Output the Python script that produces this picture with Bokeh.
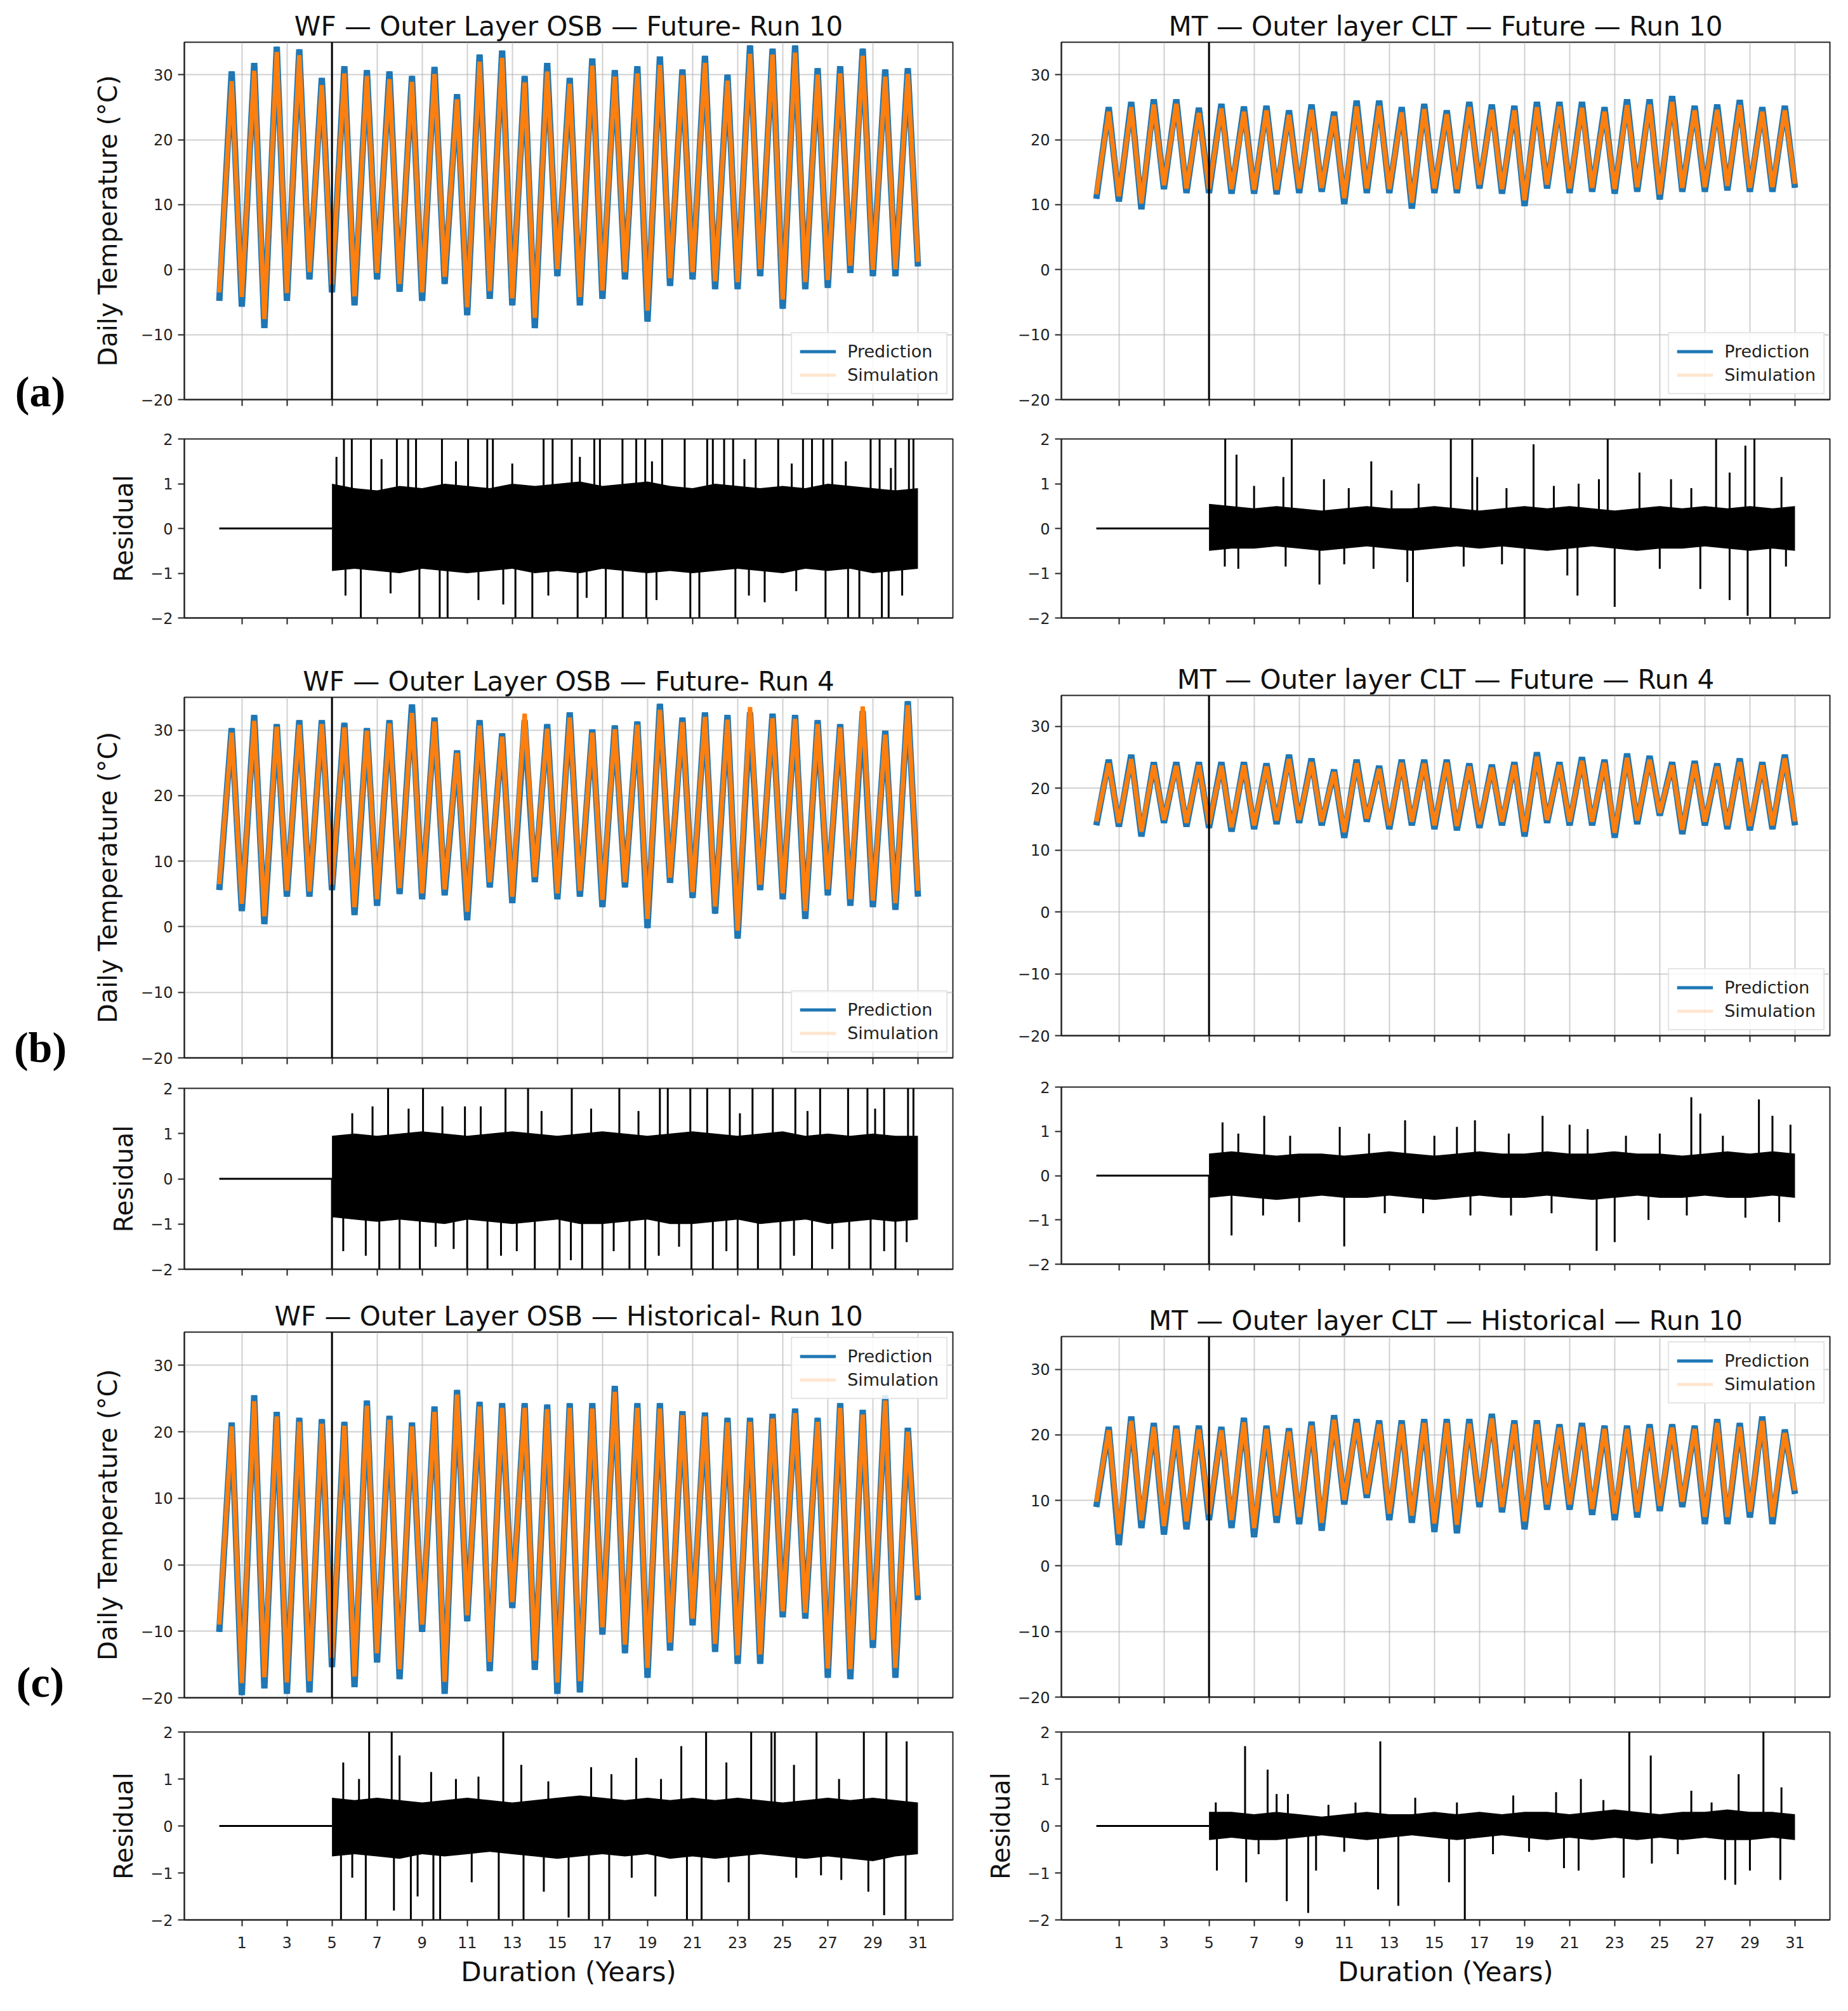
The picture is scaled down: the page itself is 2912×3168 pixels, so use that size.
from bokeh.plotting import figure
from bokeh.models import Range1d, FixedTicker, Span, Label, Legend, LegendItem
from bokeh.layouts import column, row
from bokeh.embed import file_html
from bokeh.resources import INLINE

# ---------------- data ----------------
X_TICKS = [1, 3, 5, 7, 9, 11, 13, 15, 17, 19, 21, 23, 25, 27, 29, 31]
T_TICKS = [-20, -10, 0, 10, 20, 30]
R_TICKS = [-2, -1, 0, 1, 2]
BREAK_YEAR = 5.0
PEAK_PHASE = 0.55          # summer peak position within each year
RES_YEARS = [5, 6, 7, 8, 9, 10, 11, 12, 13, 14, 15, 16, 17, 18, 19, 20,
             21, 22, 23, 24, 25, 26, 27, 28, 29, 30, 31]
PANEL_LABELS = ["(a)", "(b)", "(c)"]

TITLES = ["WF \u2014 Outer Layer OSB \u2014 Future- Run 10",
          "MT \u2014 Outer layer CLT \u2014 Future \u2014 Run 10",
          "WF \u2014 Outer Layer OSB \u2014 Future- Run 4",
          "MT \u2014 Outer layer CLT \u2014 Future \u2014 Run 4",
          "WF \u2014 Outer Layer OSB \u2014 Historical- Run 10",
          "MT \u2014 Outer layer CLT \u2014 Historical \u2014 Run 10"]

# (a) left : WF future run 10  (winter lows at year starts, summer highs)
AL_PRED_LO = [-4.8, -5.7, -9.0, -4.8, -1.5, -3.5, -5.5, -1.5, -3.4, -4.8, -2.2, -7.0, -4.5, -5.5, -9.0, -1.0,
              -5.5, -4.5, -1.5, -8.0, -2.5, -1.5, -3.0, -3.0, -1.0, -6.0, -3.0, -2.8, -0.5, -1.0, -1.0, 0.5]
AL_PRED_HI = [30.5, 31.8, 34.3, 33.9, 29.5, 31.3, 30.7, 30.5, 29.8, 31.2, 27.0, 33.1, 33.7, 29.8, 31.8, 29.5,
              32.5, 30.7, 31.3, 32.8, 30.8, 32.9, 30.0, 34.5, 34.0, 34.5, 31.0, 31.3, 34.0, 30.8, 31.0]
AL_SIM_LO = [-3.5, -4.2, -7.6, -3.6, -0.4, -2.3, -4.1, -0.5, -2.2, -3.5, -1.1, -5.8, -3.3, -4.4, -7.4, 0.1,
             -4.2, -3.2, -0.4, -6.3, -1.3, -0.4, -1.8, -1.9, 0.1, -4.6, -1.9, -1.6, 0.6, 0.0, 0.1, 1.2]
AL_SIM_HI = [29.0, 30.6, 33.5, 33.0, 28.4, 30.2, 29.8, 29.3, 28.9, 30.1, 26.2, 32.0, 32.6, 28.8, 30.5, 28.6,
             31.4, 29.7, 30.2, 31.5, 29.9, 31.8, 29.1, 33.2, 33.1, 33.4, 30.0, 30.2, 32.9, 29.7, 30.1]

# (a) right : MT future run 10
AR_PRED_LO = [10.9, 10.5, 9.3, 12.4, 11.8, 11.8, 11.7, 11.7, 11.6, 11.8, 12.0, 10.1, 11.8, 11.8, 9.4, 11.8,
              11.8, 12.5, 11.7, 9.8, 12.5, 11.8, 12.0, 11.7, 12.0, 10.8, 12.0, 12.0, 12.2, 12.0, 12.0, 12.6]
AR_PRED_HI = [25.0, 25.8, 26.2, 26.2, 24.9, 25.5, 25.1, 25.2, 24.5, 25.4, 24.3, 26.0, 26.0, 25.0, 25.5, 24.5,
              25.8, 25.4, 25.2, 25.8, 25.8, 25.8, 25.0, 26.2, 26.2, 26.7, 25.2, 25.4, 26.1, 25.0, 25.2]
AR_SIM_LO = [11.6, 11.3, 10.2, 13.0, 12.5, 12.4, 12.4, 12.3, 12.3, 12.5, 12.6, 11.0, 12.5, 12.4, 10.3, 12.5,
             12.4, 13.1, 12.4, 10.7, 13.1, 12.5, 12.6, 12.4, 12.7, 11.6, 12.6, 12.7, 12.9, 12.6, 12.7, 13.2]
AR_SIM_HI = [24.3, 25.0, 25.4, 25.5, 24.1, 24.8, 24.3, 24.5, 23.8, 24.6, 23.6, 25.1, 25.2, 24.2, 24.7, 23.9,
             25.0, 24.6, 24.5, 25.0, 25.1, 24.9, 24.3, 25.3, 25.4, 25.8, 24.5, 24.6, 25.3, 24.3, 24.5]

# (b) left : WF future run 4
BL_PRED_LO = [5.6, 2.4, 0.4, 4.6, 4.6, 5.6, 1.8, 3.2, 5.0, 4.2, 4.8, 1.0, 6.0, 3.6, 6.8, 4.2,
              4.6, 3.0, 6.0, -0.2, 6.7, 4.4, 2.0, -1.8, 5.6, 4.2, 1.2, 4.8, 3.2, 3.0, 2.6, 4.6]
BL_PRED_HI = [30.3, 32.3, 30.9, 31.5, 31.5, 31.1, 30.3, 31.5, 33.9, 31.9, 26.9, 31.5, 29.5, 31.5, 30.9, 32.7,
              30.1, 30.7, 31.3, 34.0, 31.9, 32.7, 32.3, 32.7, 32.5, 32.3, 31.5, 30.9, 32.9, 29.9, 34.4]
BL_SIM_LO = [6.5, 3.5, 1.6, 5.5, 5.4, 6.4, 3.0, 4.2, 5.9, 5.1, 5.7, 2.3, 6.8, 4.6, 7.6, 5.1,
             5.5, 4.1, 6.8, 1.2, 7.5, 5.3, 3.1, -0.6, 6.4, 5.1, 2.4, 5.7, 4.2, 4.0, 3.6, 5.5]
BL_SIM_HI = [29.6, 31.4, 30.5, 30.8, 30.9, 30.4, 29.9, 31.0, 32.6, 31.3, 26.5, 30.7, 29.0, 32.5, 30.2, 31.9,
             29.6, 30.1, 30.8, 33.1, 31.2, 32.0, 31.6, 33.5, 31.8, 31.7, 30.9, 30.4, 33.6, 29.3, 33.8]

# (b) right : MT future run 4
BR_PRED_LO = [14.0, 13.8, 12.2, 14.4, 13.8, 13.6, 13.0, 13.4, 14.2, 14.4, 14.0, 12.0, 14.6, 13.4, 14.0, 13.4,
              13.2, 13.6, 14.0, 12.2, 14.4, 14.0, 14.0, 12.0, 14.2, 15.6, 12.6, 14.0, 13.4, 13.2, 13.4, 14.0]
BR_PRED_HI = [24.6, 25.4, 24.2, 24.2, 24.2, 24.2, 24.2, 24.0, 25.4, 24.8, 23.0, 24.6, 23.6, 24.6, 24.6, 24.6,
              24.0, 23.8, 24.2, 25.8, 24.2, 25.0, 24.6, 25.6, 25.2, 24.2, 24.4, 24.0, 24.8, 24.2, 25.4]
BR_SIM_LO = [14.6, 14.4, 13.0, 14.9, 14.4, 14.2, 13.7, 14.0, 14.8, 14.9, 14.6, 12.9, 15.1, 14.0, 14.6, 14.0,
             13.9, 14.2, 14.6, 13.0, 14.9, 14.6, 14.6, 12.8, 14.8, 16.0, 13.3, 14.6, 14.0, 13.9, 14.0, 14.6]
BR_SIM_HI = [24.0, 24.7, 23.7, 23.6, 23.7, 23.6, 23.7, 23.5, 24.7, 24.2, 22.6, 24.0, 23.1, 24.1, 24.0, 24.1,
             23.5, 23.3, 23.7, 25.1, 23.7, 24.4, 24.1, 24.9, 24.6, 23.7, 23.9, 23.5, 24.2, 23.7, 24.8]

# (c) left : WF historical run 10
CL_PRED_LO = [-10.1, -19.6, -18.6, -19.4, -19.2, -15.4, -18.4, -14.7, -17.2, -10.1, -19.4, -8.5, -16.0, -6.5,
              -15.8, -19.4, -19.2, -10.5, -13.3, -17.0, -12.9, -9.1, -13.1, -14.9, -14.9, -7.9, -8.1, -17.0,
              -17.2, -12.5, -17.0, -5.3]
CL_PRED_HI = [21.4, 25.5, 23.0, 22.1, 21.9, 21.5, 24.7, 22.4, 21.4, 23.8, 26.3, 24.5, 24.3, 24.3, 24.1, 24.3,
              24.3, 26.9, 24.3, 24.3, 23.1, 22.9, 22.1, 22.1, 22.7, 23.5, 22.1, 24.3, 23.3, 25.5, 20.6]
CL_SIM_LO = [-9.0, -17.8, -16.9, -17.7, -17.5, -14.0, -16.8, -13.3, -15.7, -9.0, -17.6, -7.6, -14.6, -5.6,
             -14.4, -17.7, -17.5, -9.4, -12.0, -15.5, -11.7, -8.1, -11.9, -13.6, -13.5, -7.0, -7.2, -15.6,
             -15.7, -11.3, -15.5, -4.6]
CL_SIM_HI = [20.8, 24.6, 22.3, 21.5, 21.2, 20.9, 23.9, 21.8, 20.8, 23.0, 25.6, 23.8, 23.6, 23.6, 23.4, 23.6,
             23.5, 26.0, 23.6, 23.5, 22.5, 22.3, 21.4, 21.5, 22.0, 22.8, 21.5, 23.6, 22.6, 24.7, 20.0]

# (c) right : MT historical run 10
CR_PRED_LO = [9.0, 3.2, 5.8, 4.8, 5.6, 7.0, 5.8, 4.4, 6.6, 6.4, 5.4, 9.4, 10.4, 7.0, 6.6, 5.2,
              5.0, 9.0, 8.2, 5.6, 8.6, 8.6, 7.8, 7.0, 7.4, 8.4, 9.0, 6.4, 6.4, 7.4, 6.4, 11.0]
CR_PRED_HI = [21.2, 22.8, 21.8, 21.4, 21.4, 21.2, 22.6, 21.4, 21.0, 22.0, 23.0, 22.4, 22.2, 22.2, 22.4, 22.4,
              22.4, 23.2, 22.2, 22.2, 21.6, 21.8, 21.4, 21.4, 21.6, 21.6, 21.4, 22.4, 21.8, 22.8, 20.8]
CR_SIM_LO = [9.8, 4.9, 7.0, 6.1, 6.8, 7.9, 7.0, 5.8, 7.7, 7.5, 6.6, 10.1, 11.0, 8.0, 7.7, 6.5,
             6.3, 9.8, 9.0, 6.8, 9.4, 9.4, 8.7, 8.0, 8.3, 9.2, 9.8, 7.5, 7.5, 8.3, 7.5, 11.5]
CR_SIM_HI = [20.7, 22.1, 21.2, 20.9, 20.8, 20.7, 21.9, 20.9, 20.5, 21.4, 22.3, 21.8, 21.6, 21.6, 21.8, 21.8,
             21.7, 22.5, 21.6, 21.6, 21.1, 21.2, 20.9, 20.9, 21.0, 21.1, 20.9, 21.8, 21.2, 22.1, 20.3]

# residual core band (yearly upper / lower edge of the dense noise) and isolated spikes
AL_RES_UP = [1.0, 0.9, 0.85, 0.95, 0.9, 1.0, 0.95, 0.9, 1.0, 0.95, 1.0, 1.05, 0.95, 1.0, 1.05, 0.95,
             0.9, 1.0, 0.95, 0.9, 0.95, 0.9, 1.0, 0.95, 0.9, 0.85, 0.9]
AL_RES_LO = [-0.95, -0.9, -0.95, -1.0, -0.9, -0.95, -1.0, -0.95, -0.9, -1.0, -0.95, -1.0, -0.9, -0.95,
             -1.0, -0.95, -1.0, -0.95, -0.9, -0.95, -1.0, -0.9, -0.95, -0.9, -1.0, -0.95, -0.9]
AL_SPK_T = [5.53, 5.88, 6.73, 7.88, 8.38, 8.73, 9.88, 11.04, 11.89, 12.14, 14.39, 14.79, 15.64, 16.64, 16.89,
            17.89, 18.5, 18.9, 19.65, 20.65, 21.65, 21.9, 22.4, 22.8, 23.8, 24.8, 25.9, 26.3, 26.8, 27.2,
            28.9, 29.3, 30.0, 30.6, 30.8,
            6.28, 8.88, 9.78, 10.13, 13.14, 13.89, 15.9, 17.15, 17.9, 18.95, 20.9, 21.3, 22.9, 26.9, 27.9,
            28.4, 29.4, 29.7,
            5.2, 7.2, 10.5, 13.0, 16.0, 19.2, 23.3, 25.4, 27.8, 29.8,
            5.6, 7.6, 11.5, 12.6, 14.6, 16.3, 19.4, 24.2, 25.6, 30.3, 23.5]
AL_SPK_V = [2.4, 2.6, 2.3, 2.5, 2.4, 2.2, 2.6, 2.3, 2.4, 2.5, 2.2, 2.4, 2.6, 2.3, 2.4,
            2.5, 2.2, 2.4, 2.3, 2.6, 2.4, 2.3, 2.5, 2.2, 2.4, 2.6, 2.3, 2.4, 2.5, 2.2,
            2.4, 2.3, 2.6, 2.4, 2.5,
            -2.3, -2.5, -2.2, -2.4, -2.3, -2.6, -2.2, -2.4, -2.3, -2.5, -2.2, -2.4, -2.3, -2.5, -2.2,
            -2.4, -2.3, -2.5,
            1.6, 1.55, 1.5, 1.45, 1.6, 1.5, 1.55, 1.45, 1.5, 1.35,
            -1.5, -1.45, -1.6, -1.7, -1.5, -1.55, -1.6, -1.65, -1.4, -1.5, -1.5]

AR_RES_UP = [0.55, 0.5, 0.45, 0.5, 0.45, 0.4, 0.45, 0.5, 0.45, 0.45, 0.5, 0.45, 0.4, 0.45, 0.5, 0.45,
             0.5, 0.45, 0.4, 0.45, 0.5, 0.45, 0.5, 0.45, 0.5, 0.45, 0.5]
AR_RES_LO = [-0.5, -0.45, -0.45, -0.4, -0.45, -0.5, -0.45, -0.4, -0.45, -0.5, -0.45, -0.4, -0.45, -0.4,
             -0.45, -0.5, -0.45, -0.4, -0.45, -0.5, -0.45, -0.45, -0.4, -0.45, -0.5, -0.45, -0.5]
AR_SPK_T = [5.72, 8.67, 15.73, 16.68, 22.69, 27.5, 29.2, 6.22, 12.2, 19.4, 28.8, 8.3, 10.1, 24.1, 28.1,
            30.4, 14.3, 16.9, 21.4, 22.3, 25.5, 7.0, 11.2, 13.1, 18.2, 20.3, 26.4,
            14.05, 19.0, 29.9, 28.9, 28.1, 26.8, 23.0, 21.35, 20.9, 9.9, 13.8, 6.3, 5.7, 8.4, 12.3,
            16.3, 25.0, 30.6, 11.0, 18.0]
AR_SPK_V = [2.3, 2.3, 2.3, 2.3, 2.3, 2.3, 2.3, 1.65, 1.5, 1.88, 1.85, 1.15, 1.1, 1.25, 1.25,
            1.15, 1.0, 1.15, 1.0, 1.1, 1.1, 0.95, 0.9, 0.85, 0.9, 0.95, 0.9,
            -2.3, -2.3, -2.3, -1.95, -1.6, -1.35, -1.75, -1.5, -1.05, -1.25, -1.2, -0.9, -0.85, -0.85, -0.9,
            -0.85, -0.9, -0.85, -0.8, -0.8]

BL_RES_UP = [0.95, 1.0, 0.95, 1.0, 1.05, 1.0, 0.95, 1.0, 1.05, 1.0, 0.95, 1.0, 1.05, 1.0, 0.95, 1.0,
             1.05, 1.0, 0.95, 1.0, 1.05, 0.95, 1.0, 0.95, 1.0, 0.95, 0.95]
BL_RES_LO = [-0.85, -0.9, -0.95, -0.9, -0.95, -1.0, -0.9, -0.95, -1.0, -0.95, -0.9, -1.0, -1.0, -0.95,
             -0.9, -1.0, -1.0, -0.95, -0.9, -1.0, -0.95, -0.9, -1.0, -0.95, -0.9, -0.95, -0.9]
BL_SPK_T = [7.49, 9.04, 12.7, 13.7, 15.64, 17.75, 19.55, 19.9, 20.9, 21.65, 22.65, 23.66, 24.56, 25.56,
            26.66, 27.9, 28.76, 29.5, 30.56, 30.8,
            5.9, 6.8, 8.4, 9.9, 10.9, 11.6, 14.3, 16.5, 18.6, 23.1, 26.1, 29.1,
            5.0, 7.1, 8.0, 8.9, 11.0, 11.9, 14.0, 15.1, 16.1, 17.0, 18.2, 18.9, 20.95, 21.9, 23.0, 23.9,
            24.9, 26.3, 27.95, 28.9, 30.0,
            5.5, 6.5, 9.6, 10.4, 12.5, 13.2, 15.6, 17.5, 19.5, 20.4, 22.5, 25.5, 27.2, 29.5, 30.5]
BL_SPK_V = [2.4, 2.3, 2.5, 2.4, 2.2, 2.4, 2.3, 2.5, 2.4, 2.2, 2.4, 2.3, 2.5, 2.4, 2.2, 2.4, 2.3, 2.5,
            2.4, 2.3,
            1.45, 1.6, 1.55, 1.6, 1.6, 1.6, 1.5, 1.55, 1.5, 1.45, 1.5, 1.55,
            -2.4, -2.3, -2.5, -2.4, -2.2, -2.4, -2.3, -2.5, -2.4, -2.2, -2.4, -2.3, -2.5, -2.4, -2.2, -2.4,
            -2.3, -2.5, -2.4, -2.3, -2.4,
            -1.6, -1.7, -1.5, -1.55, -1.7, -1.6, -1.8, -1.6, -1.7, -1.5, -1.6, -1.7, -1.55, -1.6, -1.4]

BR_RES_UP = [0.5, 0.55, 0.5, 0.45, 0.5, 0.5, 0.45, 0.5, 0.55, 0.5, 0.45, 0.5, 0.55, 0.5, 0.5, 0.55,
             0.5, 0.5, 0.55, 0.5, 0.5, 0.45, 0.5, 0.55, 0.5, 0.55, 0.5]
BR_RES_LO = [-0.5, -0.45, -0.5, -0.55, -0.5, -0.45, -0.5, -0.5, -0.45, -0.5, -0.55, -0.5, -0.45, -0.5,
             -0.5, -0.45, -0.5, -0.55, -0.5, -0.45, -0.5, -0.5, -0.45, -0.5, -0.5, -0.45, -0.5]
BR_SPK_T = [5.6, 7.45, 10.8, 13.7, 16.0, 16.8, 19.8, 21.0, 21.8, 26.4, 26.8, 29.4, 30.0, 30.8, 6.3, 8.6,
            12.1, 15.0, 18.3, 23.5, 25.0, 27.8,
            5.0, 6.0, 11.0, 22.2, 23.0, 9.0, 14.5, 18.4, 24.5, 30.3, 28.8, 7.4, 12.8, 16.6, 20.2, 26.2]
BR_SPK_V = [1.2, 1.35, 1.1, 1.25, 1.1, 1.25, 1.35, 1.15, 1.05, 1.77, 1.4, 1.72, 1.35, 1.15, 0.95, 0.9,
            0.95, 0.9, 0.95, 0.9, 0.95, 0.9,
            -2.3, -1.35, -1.6, -1.7, -1.5, -1.05, -0.85, -0.9, -1.0, -1.05, -0.95, -0.9, -0.85, -0.9,
            -0.85, -0.9]

CL_RES_UP = [0.6, 0.55, 0.6, 0.55, 0.5, 0.55, 0.6, 0.55, 0.5, 0.55, 0.6, 0.65, 0.6, 0.55, 0.6, 0.55,
             0.6, 0.55, 0.6, 0.55, 0.5, 0.55, 0.6, 0.55, 0.6, 0.55, 0.5]
CL_RES_LO = [-0.65, -0.6, -0.65, -0.7, -0.6, -0.65, -0.6, -0.55, -0.6, -0.65, -0.7, -0.65, -0.6, -0.65,
             -0.6, -0.7, -0.65, -0.7, -0.65, -0.6, -0.65, -0.7, -0.65, -0.7, -0.75, -0.65, -0.6]
CL_SPK_T = [6.65, 7.65, 12.6, 21.6, 23.6, 24.5, 24.65, 26.5, 28.6, 29.6, 5.5, 8.0, 9.4, 13.4, 16.5, 18.5,
            20.5, 22.5, 30.5, 27.5, 25.5, 6.2, 10.5, 11.5, 14.6, 17.4, 19.6,
            5.4, 6.5, 8.5, 9.5, 9.8, 12.4, 13.5, 16.4, 17.3, 20.75, 21.4, 23.5, 30.45, 7.75, 8.8, 15.5,
            14.4, 19.35, 25.6, 26.7, 28.8, 29.5, 5.9, 11.2, 18.3, 22.6, 27.6]
CL_SPK_V = [2.3, 2.3, 2.3, 2.3, 2.3, 2.3, 2.3, 2.3, 2.3, 2.3, 1.35, 1.5, 1.15, 1.3, 1.25, 1.45,
            1.7, 1.35, 1.8, 1.0, 1.3, 1.0, 1.0, 1.05, 0.95, 1.1, 1.0,
            -2.3, -2.3, -2.3, -2.3, -2.3, -2.3, -2.3, -2.3, -2.3, -2.3, -2.3, -2.3, -2.3, -1.8, -1.5, -1.95,
            -1.4, -1.5, -1.1, -1.05, -1.4, -1.9, -1.1, -1.2, -1.1, -1.2, -1.15]

CR_RES_UP = [0.3, 0.3, 0.25, 0.3, 0.25, 0.2, 0.25, 0.3, 0.25, 0.25, 0.3, 0.25, 0.3, 0.25, 0.3, 0.3,
             0.25, 0.3, 0.35, 0.3, 0.25, 0.3, 0.3, 0.35, 0.3, 0.3, 0.25]
CR_RES_LO = [-0.3, -0.25, -0.3, -0.3, -0.25, -0.2, -0.25, -0.3, -0.25, -0.2, -0.25, -0.3, -0.25, -0.2,
             -0.25, -0.3, -0.25, -0.3, -0.25, -0.3, -0.25, -0.3, -0.25, -0.3, -0.3, -0.25, -0.3]
CR_SPK_T = [23.65, 29.6, 6.6, 7.6, 12.6, 21.5, 24.6, 28.5, 30.4, 18.5, 20.4, 26.4, 8.0, 8.5, 14.15,
            5.3, 10.3, 11.5, 16.0, 22.5, 27.3,
            16.35, 9.4, 8.45, 13.4, 12.5, 6.65, 5.35, 9.75, 15.65, 20.75, 21.4, 23.4, 27.9, 28.35, 29.0,
            30.35, 24.65, 7.2, 11.0, 17.6, 19.2, 25.8]
CR_SPK_V = [2.3, 2.3, 1.7, 1.2, 1.8, 1.0, 1.5, 1.1, 0.82, 0.65, 0.72, 0.75, 0.68, 0.68, 0.6,
            0.5, 0.45, 0.5, 0.5, 0.55, 0.5,
            -2.3, -1.85, -1.6, -1.7, -1.35, -1.2, -0.95, -0.95, -1.2, -0.9, -0.95, -1.1, -1.15, -1.25, -0.95,
            -1.15, -0.8, -0.6, -0.55, -0.6, -0.55, -0.6]

# ---------------- styling ----------------
FONT = "DejaVu Sans"
BLUE = "#1f77b4"
ORANGE = "#ff7f0e"
FRAME_W = 1211
MINUS = {-20: "\u221220", -10: "\u221210", -2: "\u22122", -1: "\u22121"}


def interleave(lo, hi):
    t, y = [], []
    for k in range(len(hi)):
        t += [k, k + PEAK_PHASE]
        y += [lo[k], hi[k]]
    t.append(len(hi))
    y.append(lo[len(hi)])
    return t, y


def style_axes(p, yticks, ylabel, show_xlabels, ylab_standoff):
    p.outline_line_color = "#222222"
    p.outline_line_width = 2
    p.xaxis.ticker = FixedTicker(ticks=X_TICKS)
    p.yaxis.ticker = FixedTicker(ticks=yticks)
    p.yaxis.major_label_overrides = MINUS
    for ax in (p.xaxis[0], p.yaxis[0]):
        ax.axis_line_color = "#222222"
        ax.axis_line_width = 2
        ax.major_tick_out = 10
        ax.major_tick_in = 0
        ax.major_tick_line_width = 2
        ax.major_tick_line_color = "#222222"
        ax.minor_tick_line_color = None
        ax.major_label_text_font = FONT
        ax.major_label_text_font_size = "24px"
        ax.major_label_text_color = "#222222"
        ax.major_label_standoff = 8
        ax.axis_label_text_font = FONT
        ax.axis_label_text_font_style = "normal"
        ax.axis_label_text_color = "#111111"
        ax.axis_label_text_font_size = "40px"
    if ylabel:
        p.yaxis.axis_label = ylabel
        p.yaxis.axis_label_standoff = ylab_standoff
    if show_xlabels:
        p.xaxis.major_label_standoff = 16
        p.xaxis.axis_label = "Duration (Years)"
        p.xaxis.axis_label_text_font_size = "42px"
        p.xaxis.axis_label_standoff = 10
    else:
        p.xaxis.major_label_text_font_size = "0px"
        p.xaxis.major_label_standoff = 0


def temp_fig(title, pred_lo, pred_hi, sim_lo, sim_hi, bl, bt, fh, bb, br, legend_loc, ylabel=None):
    p = figure(frame_width=FRAME_W, frame_height=fh, min_border_left=bl, min_border_top=bt,
               min_border_bottom=bb, min_border_right=br, x_range=Range1d(-1.55, 32.55),
               y_range=Range1d(-20, 35), output_backend="svg", toolbar_location=None, title=title)
    p.title.text_font = FONT
    p.title.text_font_size = "42px"
    p.title.text_font_style = "normal"
    p.title.text_color = "#111111"
    p.title.align = "center"
    p.title.standoff = 1
    style_axes(p, T_TICKS, ylabel, False, 26)
    p.grid.grid_line_color = "#b0b0b0"
    p.grid.grid_line_alpha = 0.6
    p.grid.grid_line_width = 2
    t, y = interleave(pred_lo, pred_hi)
    t2, y2 = interleave(sim_lo, sim_hi)
    # thin copies (used as legend glyphs, hidden beneath the thick traces)
    r1 = p.line(t, y, line_color=BLUE, line_width=5)
    r2 = p.line(t2, y2, line_color=ORANGE, line_width=5, line_alpha=0.2)
    p.line(t, y, line_color=BLUE, line_width=10)
    p.line(t2, y2, line_color=ORANGE, line_width=7)
    p.add_layout(Span(location=BREAK_YEAR, dimension="height", line_color="black", line_width=3))
    leg = Legend(items=[LegendItem(label="Prediction", renderers=[r1]),
                        LegendItem(label="Simulation", renderers=[r2])],
                 location=legend_loc, margin=8, padding=12, spacing=4,
                 glyph_width=57, glyph_height=33, label_standoff=18, label_height=33,
                 label_text_font=FONT, label_text_font_size="27px", label_text_color="#222222",
                 border_line_color="#cccccc", border_line_width=2,
                 background_fill_color="white", background_fill_alpha=0.85)
    p.add_layout(leg)
    return p


def res_fig(up, lo, spk_t, spk_v, bl, bt, fh, bb, br, ylabel=None, show_xlabels=False):
    p = figure(frame_width=FRAME_W, frame_height=fh, min_border_left=bl, min_border_top=bt,
               min_border_bottom=bb, min_border_right=br, x_range=Range1d(-1.55, 32.55),
               y_range=Range1d(-2, 2), output_backend="svg", toolbar_location=None)
    style_axes(p, R_TICKS, ylabel, show_xlabels, 16)
    p.grid.grid_line_color = None
    p.line([0, BREAK_YEAR], [0, 0], line_color="black", line_width=3)
    p.varea(x=RES_YEARS, y1=lo, y2=up, fill_color="black")
    m = min(len(spk_t), len(spk_v))
    p.segment(x0=spk_t[:m], y0=[0.0] * m, x1=spk_t[:m], y1=spk_v[:m], line_color="black", line_width=3)
    return p


# ---------------- panel label strip (a)/(b)/(c) ----------------
STRIP_W, STRIP_H = 110, 3134
strip = figure(frame_width=STRIP_W, frame_height=STRIP_H, min_border=0, x_axis_location=None,
               y_axis_location=None, x_range=Range1d(0, 1), y_range=Range1d(0, 1),
               output_backend="svg", toolbar_location=None)
strip.outline_line_color = None
strip.grid.grid_line_color = None
for lab, sy in zip(PANEL_LABELS, [2518, 1485, 485]):
    strip.add_layout(Label(x=63, y=sy, x_units="screen", y_units="screen", text=lab,
                           text_font="Liberation Serif", text_font_style="bold",
                           text_font_size="68px", text_align="center", text_baseline="middle",
                           text_color="black"))

# ---------------- left column ----------------
LBL, LBR = 275 - STRIP_W, 60
left = column(
    temp_fig(TITLES[0], AL_PRED_LO, AL_PRED_HI, AL_SIM_LO, AL_SIM_HI, LBL, 66, 563, 30, LBR,
             "bottom_right", "Daily Temperature (\u00b0C)"),
    res_fig(AL_RES_UP, AL_RES_LO, AL_SPK_T, AL_SPK_V, LBL, 32, 282, 30, LBR, "Residual"),
    temp_fig(TITLES[2], BL_PRED_LO, BL_PRED_HI, BL_SIM_LO, BL_SIM_HI, LBL, 95, 568, 30, LBR,
             "bottom_right", "Daily Temperature (\u00b0C)"),
    res_fig(BL_RES_UP, BL_RES_LO, BL_SPK_T, BL_SPK_V, LBL, 18, 285, 30, LBR, "Residual"),
    temp_fig(TITLES[4], CL_PRED_LO, CL_PRED_HI, CL_SIM_LO, CL_SIM_HI, LBL, 69, 576, 30, LBR,
             "top_right", "Daily Temperature (\u00b0C)"),
    res_fig(CL_RES_UP, CL_RES_LO, CL_SPK_T, CL_SPK_V, LBL + 15, 24, 296, 120, LBR - 15,
            "Residual", True),
)

# ---------------- right column ----------------
RBL, RBR = 122, 10
right = column(
    temp_fig(TITLES[1], AR_PRED_LO, AR_PRED_HI, AR_SIM_LO, AR_SIM_HI, RBL, 66, 563, 30, RBR,
             "bottom_right"),
    res_fig(AR_RES_UP, AR_RES_LO, AR_SPK_T, AR_SPK_V, RBL, 32, 282, 30, RBR),
    temp_fig(TITLES[3], BR_PRED_LO, BR_PRED_HI, BR_SIM_LO, BR_SIM_HI, RBL + 4, 92, 536, 30, RBR - 4,
             "bottom_right"),
    res_fig(BR_RES_UP, BR_RES_LO, BR_SPK_T, BR_SPK_V, RBL, 51, 279, 30, RBR),
    temp_fig(TITLES[5], CR_PRED_LO, CR_PRED_HI, CR_SIM_LO, CR_SIM_HI, RBL, 84, 568, 30, RBR,
             "top_right"),
    res_fig(CR_RES_UP, CR_RES_LO, CR_SPK_T, CR_SPK_V, RBL, 25, 296, 120, RBR, "Residual", True),
)

layout = row(strip, left, right)
open("out.html", "w").write(file_html(layout, INLINE))
